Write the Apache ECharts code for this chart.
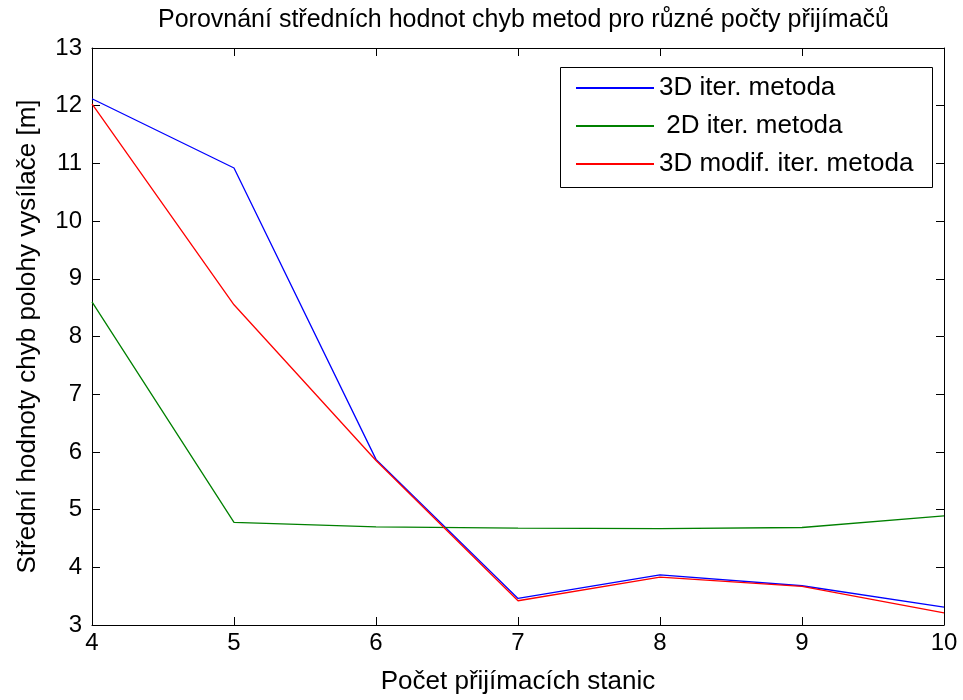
<!DOCTYPE html>
<html><head><meta charset="utf-8">
<script src="https://cdn.jsdelivr.net/npm/echarts@6/dist/echarts.min.js"></script>
<style>html,body{margin:0;padding:0;background:#fff}#c{width:963px;height:700px}</style>
</head><body><div id="c"></div>
<script>
const stations = [4, 5, 6, 7, 8, 9, 10];
const iter3D = [12.12, 10.92, 5.87, 3.46, 3.87, 3.68, 3.31];
const iter2D = [8.6, 4.78, 4.70, 4.68, 4.67, 4.69, 4.89];
const modif3D = [12.03, 8.55, 5.85, 3.42, 3.83, 3.67, 3.21];
const seriesNames = ['3D iter. metoda', ' 2D iter. metoda', '3D modif. iter. metoda'];
const seriesColors = ['#0000ff', '#008000', '#ff0000'];
const allValues = [iter3D, iter2D, modif3D];

const FONT = 'Liberation Sans';
const chart = echarts.init(document.getElementById('c'), null, {renderer: 'canvas'});
const axisLine = {show: true, lineStyle: {color: '#000', width: 1}};
const tick = {show: true, inside: true, length: 8, lineStyle: {color: '#000'}};
chart.setOption({
  animation: false,
  backgroundColor: '#fff',
  title: {text: 'Porovnání středních hodnot chyb metod pro různé počty přijímačů', left: 153, top: 3,
    textStyle: {fontFamily: FONT, fontSize: 25, fontWeight: 'normal', color: '#000'}},
  grid: {left: 92, right: 19, top: 48, bottom: 75},
  graphic: [{type: 'rect', z: 3, shape: {x: 560.5, y: 67.5, width: 372, height: 120},
    style: {fill: '#fff', stroke: '#000', lineWidth: 1}}],
  legend: {
    orient: 'vertical', left: 575, top: 75, z: 5,
    data: seriesNames,
    itemWidth: 78, itemHeight: 14, itemGap: 12,
    padding: 0,
    itemStyle: {opacity: 0},
    textStyle: {fontFamily: FONT, fontSize: 26, color: '#000'}
  },
  xAxis: [
    {type: 'value', min: 4, max: 10, interval: 1, position: 'bottom',
     name: 'Počet přijímacích stanic', nameLocation: 'middle', nameGap: 44,
     nameTextStyle: {fontFamily: FONT, fontSize: 26, color: '#000'},
     axisLine: axisLine, axisTick: tick, splitLine: {show: false},
     axisLabel: {fontFamily: FONT, fontSize: 24, color: '#000', margin: 6}},
    {type: 'value', min: 4, max: 10, interval: 1, position: 'top',
     axisLine: axisLine, axisTick: tick, splitLine: {show: false}, axisLabel: {show: false}}
  ],
  yAxis: [
    {type: 'value', min: 3, max: 13, interval: 1, position: 'left',
     name: 'Střední hodnoty chyb polohy vysílače [m]', nameLocation: 'middle', nameGap: 51,
     nameTextStyle: {fontFamily: FONT, fontSize: 26, color: '#000'},
     axisLine: axisLine, axisTick: tick, splitLine: {show: false},
     axisLabel: {fontFamily: FONT, fontSize: 24, color: '#000', margin: 10}},
    {type: 'value', min: 3, max: 13, interval: 1, position: 'right',
     axisLine: axisLine, axisTick: tick, splitLine: {show: false}, axisLabel: {show: false}}
  ],
  series: allValues.map((vals, i) => ({
    name: seriesNames[i], type: 'line', symbol: 'none',
    xAxisIndex: 0, yAxisIndex: 0,
    data: stations.map((x, j) => [x, vals[j]]),
    lineStyle: {color: seriesColors[i], width: 1.3},
    itemStyle: {color: seriesColors[i]}
  }))
});
</script></body></html>
